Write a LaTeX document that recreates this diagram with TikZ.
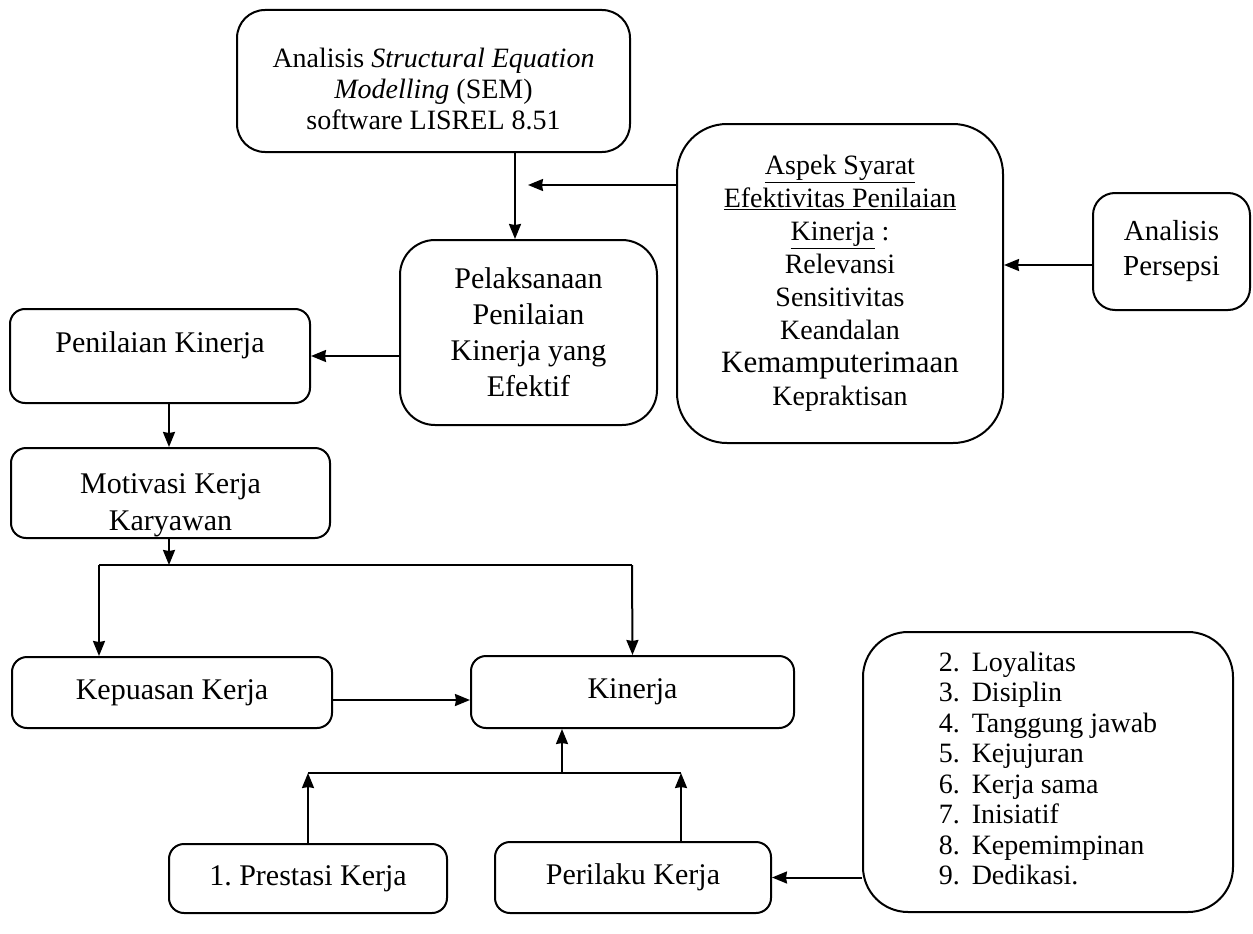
\documentclass[tikz,border=0pt]{standalone}
\usepackage{fontspec}
\setmainfont{Liberation Serif}
\usetikzlibrary{arrows.meta}

\tikzset{
  blok/.style={draw, line width=2pt, rounded corners=#1, align=center, inner sep=0pt},
  blok/.default=15pt,
  garis/.style={line width=2pt},
  panah/.style={->, line width=2pt},
}

\begin{document}
\frenchspacing
\begin{tikzpicture}[x=1pt,y=-1pt,>={Stealth[length=15pt,width=12pt,inset=1pt]}]

\useasboundingbox (0,0) rectangle (1253,934);

% Kotak bagian atas
\node[blok=28pt, minimum width=393pt, minimum height=142pt, text height=97pt, font=\fontsize{28}{31}\selectfont] (sem) at (433.5,81)
  {Analisis \textit{Structural Equation}\\ \textit{Modelling} (SEM)\\ software LISREL 8.51};
\node[blok=35pt, minimum width=257pt, minimum height=185pt, font=\fontsize{30}{36}\selectfont] (pel) at (528.5,332.5)
  {Pelaksanaan\\ Penilaian\\ Kinerja yang\\ Efektif};
\node[blok=50pt, minimum width=326pt, minimum height=319pt, font=\fontsize{28}{33}\selectfont] (aspek) at (840,283.5)
  {\underline{Aspek Syarat}\\ \underline{Efektivitas Penilaian}\\ \underline{Kinerja} :\\ Relevansi\\ Sensitivitas\\ Keandalan\\
   \fontsize{31}{35}\selectfont Kemamputerimaan\\ Kepraktisan};
\node[blok=22pt, minimum width=157pt, minimum height=117pt, font=\fontsize{29}{35}\selectfont] (persepsi) at (1171.5,251.5)
  {Analisis\\ Persepsi};

% Kotak bagian kiri
\node[blok, minimum width=300pt, minimum height=94pt, text depth=27pt, font=\fontsize{30}{36}\selectfont] (pen) at (160,356)
  {Penilaian Kinerja};
\node[blok, minimum width=319pt, minimum height=90pt, text height=81pt, font=\fontsize{30}{37}\selectfont] (mot) at (170.5,493)
  {Motivasi Kerja\\ Karyawan};
\node[blok, minimum width=320pt, minimum height=71pt, font=\fontsize{30}{36}\selectfont] (kep) at (172,692.5)
  {Kepuasan Kerja};
\node[blok, minimum width=323pt, minimum height=72pt, font=\fontsize{30}{36}\selectfont] (kin) at (632.5,692)
  {Kinerja};

% Kotak bagian bawah
\node[blok, minimum width=278pt, minimum height=69pt, font=\fontsize{30}{36}\selectfont] (pres) at (308,878.5)
  {1. Prestasi Kerja};
\node[blok, minimum width=276pt, minimum height=71pt, font=\fontsize{30}{36}\selectfont] (per) at (633,877.5)
  {Perilaku Kerja};
\node[blok=45pt, minimum width=370pt, minimum height=280pt, font=\fontsize{28}{30.5}\selectfont] (daftar) at (1048,772)
  {\begin{tabular}{@{}l@{\hspace{12pt}}l@{}}
   2. & Loyalitas\\ 3. & Disiplin\\ 4. & Tanggung jawab\\ 5. & Kejujuran\\
   6. & Kerja sama\\ 7. & Inisiatif\\ 8. & Kepemimpinan\\ 9. & Dedikasi.
   \end{tabular}};

% Titik-titik cabang
\coordinate (tAspek) at (528,185);
\coordinate (jA) at (169,565);
\coordinate (jL) at (99,565);
\coordinate (jR) at (632,565);
\coordinate (jB) at (308,773);
\coordinate (jC) at (681,773);
\coordinate (jM) at (562,773);

% Panah
\draw[panah] (sem.south -| 515,0) -- (pel.north -| 515,0);
\draw[panah] (aspek.west |- tAspek) -- (tAspek);
\draw[panah] (persepsi.west |- 0,265) -- (aspek.east |- 0,265);
\draw[panah] (pel.west |- pen.east) -- (pen.east);
\draw[panah] (pen.south -| jA) -- (mot.north -| jA);
\draw[panah] (mot.south -| jA) -- (jA);
\draw[garis] (jL) -- (jR);
\draw[panah] (jL) -- (kep.north -| jL);
\draw[panah] (jR) -- (kin.north);
\draw[panah] (kep.east |- 0,700) -- (kin.west |- 0,700);
\draw[panah] (pres.north) -- (jB);
\draw[panah] (per.north -| jC) -- (jC);
\draw[garis] (jB) -- (jC);
\draw[panah] (jM) -- (kin.south -| jM);
\draw[panah] (daftar.west |- per.east) -- (per.east);

\end{tikzpicture}
\end{document}
